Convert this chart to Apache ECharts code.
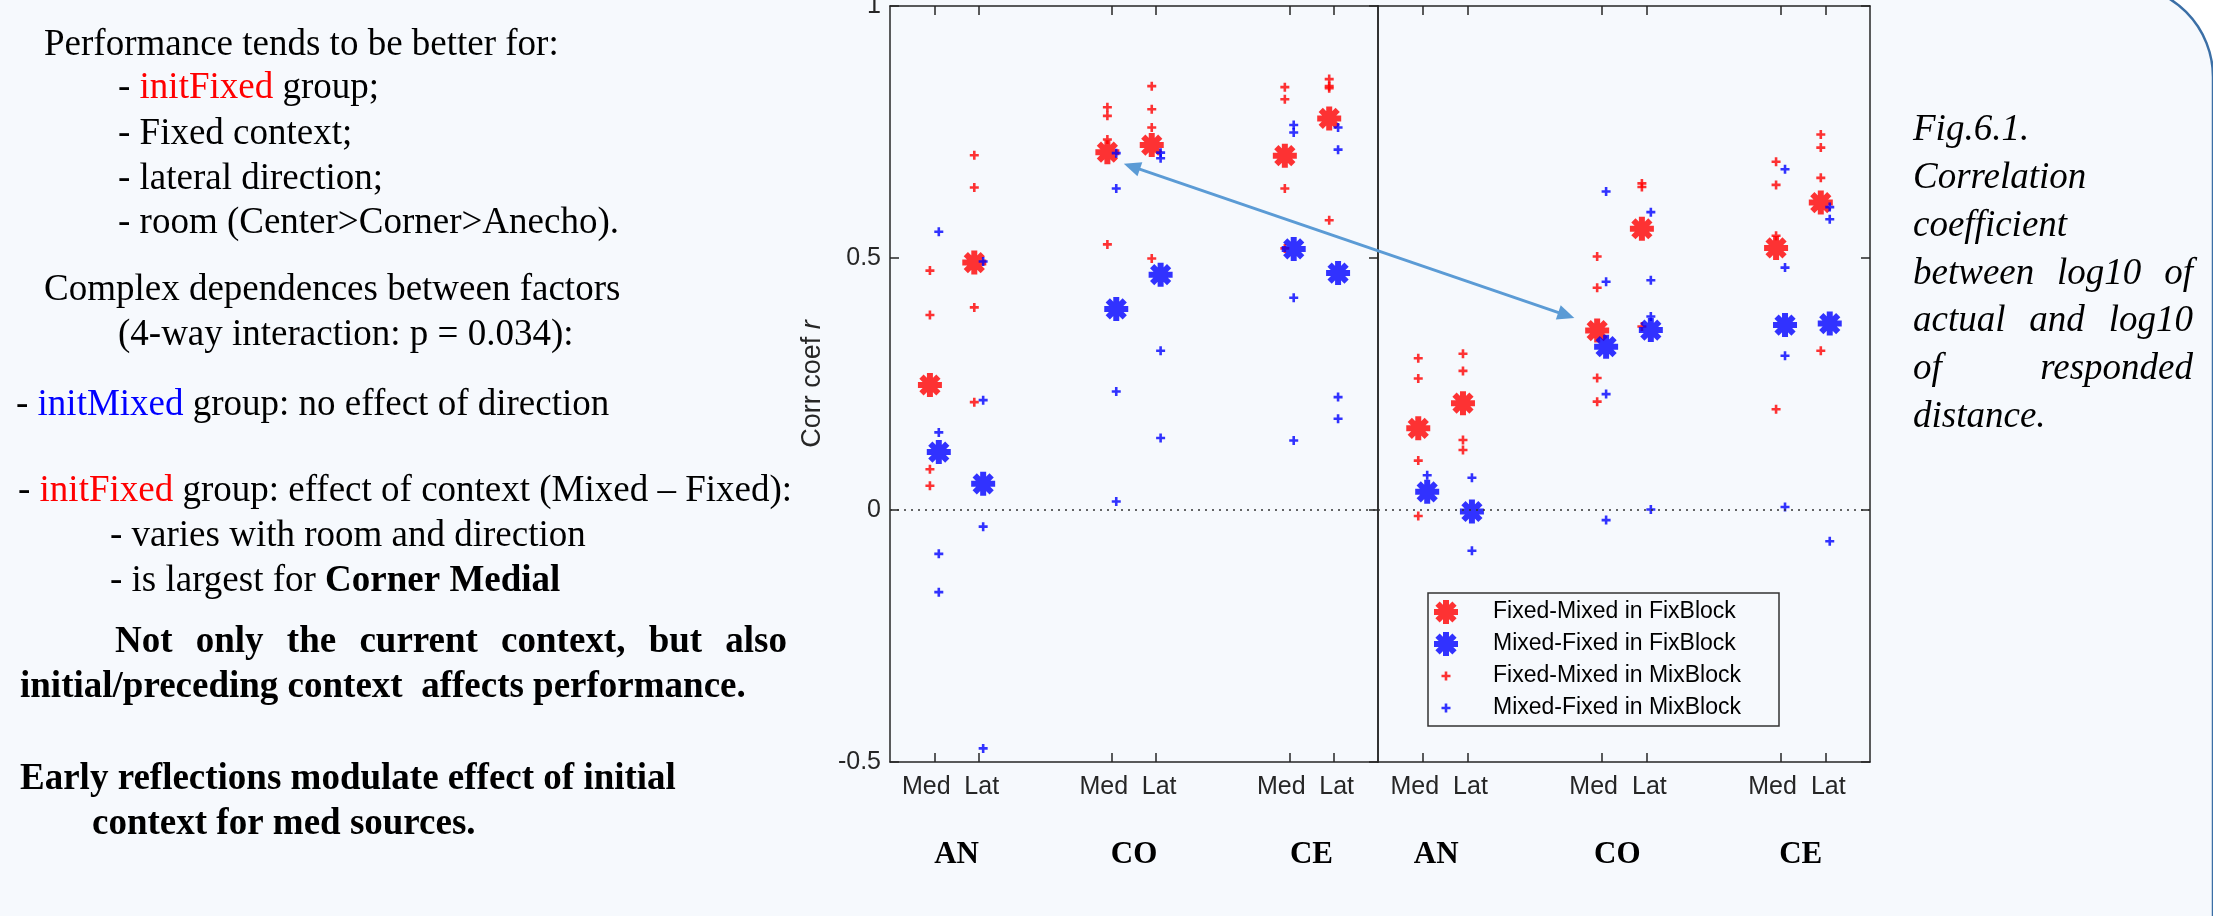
<!DOCTYPE html>
<html>
<head>
<meta charset="utf-8">
<title>Corr coef r</title>
<script src="https://cdn.jsdelivr.net/npm/echarts@6.0.0/dist/echarts.min.js"></script>
<style>
  html, body { margin: 0; padding: 0; background: #fff; }
  #main { width: 2213px; height: 916px; }
</style>
</head>
<body>
<div id="main"></div>
<script>
// x positions of the conditions in each panel (AN, CO, CE x Med, Lat)
const condX = [1, 2, 5, 6, 9, 10];
const condLabels = ['Med', 'Lat', 'Med', 'Lat', 'Med', 'Lat'];
const roomLabels = ['AN', 'CO', 'CE'];
const roomXLeft = [1.5, 5.5, 9.5];
const roomXRight = [1.3, 5.35, 9.45];

const seriesNames = ['Fixed-Mixed in FixBlock', 'Mixed-Fixed in FixBlock',
                     'Fixed-Mixed in MixBlock', 'Mixed-Fixed in MixBlock'];

// left panel
const fixMixBigL = [0.248, 0.491, 0.710, 0.724, 0.703, 0.777];
const mixFixBigL = [0.115, 0.052, 0.399, 0.467, 0.518, 0.470];
const fixMixSmallL = [
  [0.475, 0.387, 0.081, 0.048],
  [0.704, 0.640, 0.402, 0.214],
  [0.799, 0.782, 0.735, 0.527],
  [0.841, 0.795, 0.759, 0.499],
  [0.839, 0.815, 0.638, 0.519],
  [0.855, 0.841, 0.837, 0.575]
];
const mixFixSmallL = [
  [0.552, 0.154, -0.087, -0.163],
  [0.493, 0.218, -0.033, -0.473],
  [0.708, 0.638, 0.235, 0.017],
  [0.709, 0.698, 0.316, 0.143],
  [0.764, 0.749, 0.421, 0.138],
  [0.759, 0.715, 0.224, 0.181]
];

// right panel
const fixMixBigR = [0.162, 0.212, 0.356, 0.558, 0.520, 0.610];
const mixFixBigR = [0.036, -0.003, 0.324, 0.357, 0.367, 0.370];
const fixMixSmallR = [
  [0.301, 0.261, 0.098, -0.012],
  [0.310, 0.276, 0.139, 0.119],
  [0.503, 0.441, 0.262, 0.215],
  [0.648, 0.641, 0.364],
  [0.691, 0.645, 0.544, 0.200],
  [0.745, 0.719, 0.659, 0.316]
];
const mixFixSmallR = [
  [0.069],
  [0.064, -0.081],
  [0.632, 0.453, 0.230, -0.020],
  [0.591, 0.456, 0.384, 0.001],
  [0.676, 0.481, 0.306, 0.006],
  [0.601, 0.577, -0.062]
];

// arrow between CO Med of both panels, in data units [x, y]
const arrowFrom = [5.27, 0.687];
const arrowTo = [4.39, 0.381];

const leftNotes = [
  'Performance tends to be better for:',
  '- {r|initFixed} group;',
  '- Fixed context;',
  '- lateral direction;',
  '- room (Center>Corner>Anecho).',
  'Complex dependences between factors',
  '(4-way interaction: p = 0.034):',
  '- {b|initMixed} group: no effect of direction',
  '- {r|initFixed} group: effect of context (Mixed \u2013 Fixed):',
  '- varies with room and direction',
  '- is largest for {s|Corner Medial}'
];
const boldNotes = [
  'Not only the current context, but also',
  'initial/preceding context  affects performance.',
  'Early reflections modulate effect of initial',
  'context for med sources.'
];
const captionLines = ['Fig.6.1.', 'Correlation', 'coefficient', 'between log10 of',
                      'actual and log10', 'of responded', 'distance.'];

const RED = '#ff0000';
const BLUE = '#0000ff';
const AX = '#262626';
const BG = '#f6f9fd';
const SANS = '"Liberation Sans", Arial, sans-serif';
const SERIF = '"Liberation Serif", "Times New Roman", serif';

// MATLAB-like '*' and '+' markers
const ASTER = 'path://M0 9L24 9L24 15L0 15Z M9 0L15 0L15 24L9 24Z ' +
  'M5.636 1.394L22.606 18.364L18.364 22.606L1.394 5.636Z ' +
  'M1.394 18.364L18.364 1.394L22.606 5.636L5.636 22.606Z';
const PLUS = 'path://M3.2 0L5.8 0L5.8 3.2L9 3.2L9 5.8L5.8 5.8L5.8 9L3.2 9L3.2 5.8L0 5.8L0 3.2L3.2 3.2Z';
const PLUS_ICON = 'path://M0 0L0.01 0L0.01 0.01Z M24 24L23.99 24L23.99 23.99Z ' +
  'M10.7 7.5L13.3 7.5L13.3 10.7L16.5 10.7L16.5 13.3L13.3 13.3L13.3 16.5L10.7 16.5L10.7 13.3L7.5 13.3L7.5 10.7L10.7 10.7Z';

function bigPts(vals, dx) {
  return vals.map((v, i) => [condX[i] + dx, v]);
}
function smallPts(lists, dx) {
  const out = [];
  lists.forEach((l, i) => l.forEach(v => out.push([condX[i] + dx, v])));
  return out;
}

function panelSeries(g, fmBig, mfBig, fmSmall, mfSmall) {
  const base = { type: 'scatter', xAxisIndex: g * 2, yAxisIndex: g * 2, silent: true };
  return [
    Object.assign({}, base, {
      name: seriesNames[0], symbol: ASTER, symbolSize: 24,
      itemStyle: { color: RED }, data: bigPts(fmBig, -0.1),
      markLine: {
        silent: true, symbol: ['none', 'none'], label: { show: false },
        lineStyle: { type: [2, 5], color: '#333', width: 1.5 },
        data: [{ yAxis: 0 }]
      }
    }),
    Object.assign({}, base, {
      name: seriesNames[2], symbol: PLUS, symbolSize: 9,
      itemStyle: { color: RED }, data: smallPts(fmSmall, -0.1)
    }),
    Object.assign({}, base, {
      name: seriesNames[1], symbol: ASTER, symbolSize: 24,
      itemStyle: { color: BLUE }, data: bigPts(mfBig, 0.1)
    }),
    Object.assign({}, base, {
      name: seriesNames[3], symbol: PLUS, symbolSize: 9,
      itemStyle: { color: BLUE }, data: smallPts(mfSmall, 0.1)
    })
  ];
}

const axLine = { show: true, onZero: false, lineStyle: { color: AX, width: 1.5 } };
const tickStyle = { color: AX, width: 1.5 };

function xAxes(g) {
  return [
    {
      type: 'value', gridIndex: g, position: 'bottom', min: 0, max: 11,
      axisLine: axLine,
      axisTick: { show: true, inside: true, length: 9, customValues: condX, lineStyle: tickStyle },
      axisLabel: {
        customValues: condX, margin: 13,
        formatter: v => {
          const i = condX.indexOf(v);
          return i % 2 === 0 ? '{m|' + condLabels[i] + '}' : '{l|' + condLabels[i] + '}';
        },
        rich: {
          m: { fontSize: 25, fontFamily: SANS, color: AX, padding: [0, 16, 0, 0] },
          l: { fontSize: 25, fontFamily: SANS, color: AX, padding: [0, 0, 0, 6] }
        }
      },
      splitLine: { show: false }
    },
    {
      type: 'value', gridIndex: g, position: 'top', min: 0, max: 11,
      axisLine: axLine,
      axisTick: { show: true, inside: true, length: 9, customValues: condX, lineStyle: tickStyle },
      axisLabel: { show: false },
      splitLine: { show: false }
    }
  ];
}

function yAxes(g) {
  const common = { type: 'value', gridIndex: g, min: -0.5, max: 1, interval: 0.5, splitLine: { show: false } };
  const left = Object.assign({}, common, {
    position: 'left', axisLine: axLine,
    axisTick: { show: g === 0, inside: true, length: 9, lineStyle: tickStyle },
    axisLabel: { show: g === 0, margin: 9, fontSize: 25, fontFamily: SANS, color: AX }
  });
  if (g === 0) {
    left.name = '{n|Corr coef }{i|r}';
    left.nameLocation = 'middle';
    left.nameGap = 64;
    left.nameTextStyle = {
      fontSize: 27, fontFamily: SANS, color: AX,
      rich: {
        n: { fontSize: 27, fontFamily: SANS, color: AX },
        i: { fontSize: 27, fontFamily: SANS, fontStyle: 'italic', color: AX }
      }
    };
  }
  const right = Object.assign({}, common, {
    position: 'right', axisLine: axLine,
    axisTick: { show: true, inside: true, length: 9, lineStyle: tickStyle },
    axisLabel: { show: false }
  });
  return [left, right];
}

const chart = echarts.init(document.getElementById('main'));

chart.setOption({
  animation: false,
  backgroundColor: 'transparent',
  grid: [
    { left: 890, top: 6, width: 488, height: 756, outerBoundsMode: 'none' },
    { left: 1378, top: 6, width: 492, height: 756, outerBoundsMode: 'none' }
  ],
  xAxis: xAxes(0).concat(xAxes(1)),
  yAxis: yAxes(0).concat(yAxes(1)),
  legend: {
    orient: 'vertical', left: 1434, top: 600, padding: 0,
    itemWidth: 84, itemHeight: 24, itemGap: 8, symbolKeepAspect: true,
    selectedMode: false, z: 5,
    textStyle: { fontSize: 23, fontFamily: SANS, color: '#000', lineHeight: 24 },
    data: [
      { name: seriesNames[0], icon: ASTER },
      { name: seriesNames[1], icon: ASTER },
      { name: seriesNames[2], icon: PLUS_ICON },
      { name: seriesNames[3], icon: PLUS_ICON }
    ]
  },
  series: panelSeries(0, fixMixBigL, mixFixBigL, fixMixSmallL, mixFixSmallL)
    .concat(panelSeries(1, fixMixBigR, mixFixBigR, fixMixSmallR, mixFixSmallR))
});

// ---- annotations (text, legend box, arrow) ----
const F37 = '37px ' + SERIF;
const F37B = 'bold 37px ' + SERIF;
const F37I = 'italic 37px ' + SERIF;
const rich = {
  r: { font: F37, fill: RED },
  b: { font: F37, fill: BLUE },
  s: { font: F37B, fill: '#000' }
};
const measureCtx = document.createElement('canvas').getContext('2d');
function textWidth(t, font) { measureCtx.font = font; return measureCtx.measureText(t).width; }

function txt(text, x, y, font, extra) {
  return Object.assign({
    type: 'text', x: x, y: y, silent: true, z: 10,
    style: { text: text, font: font, fill: '#000', align: 'left', verticalAlign: 'middle', rich: rich }
  }, extra || {});
}
function justify(line, x0, x1, y, font) {
  const words = line.split(' ');
  const ws = words.map(w => textWidth(w, font));
  const gap = (x1 - x0 - ws.reduce((a, b) => a + b, 0)) / (words.length - 1);
  const els = [];
  let x = x0;
  words.forEach((w, i) => { els.push(txt(w, x, y, font)); x += ws[i] + gap; });
  return els;
}

const graphics = [];
// slide background with rounded top-right corner
graphics.push({
  type: 'rect', silent: true, z: -100,
  shape: { x: -100, y: -15, width: 2313, height: 1100, r: [0, 92, 0, 0] },
  style: { fill: BG, stroke: '#3b6fa6', lineWidth: 2.5 }
});

const noteX = [44, 118, 118, 118, 118, 44, 118, 16, 18, 110, 110];
const noteY = [45, 88, 134, 179, 223, 290, 335, 405, 491, 536, 581];
leftNotes.forEach((t, i) => graphics.push(txt(t, noteX[i], noteY[i], F37)));

justify(boldNotes[0], 115, 787, 642, F37B).forEach(e => graphics.push(e));
graphics.push(txt(boldNotes[1], 20, 687, F37B));
graphics.push(txt(boldNotes[2], 20, 779, F37B));
graphics.push(txt(boldNotes[3], 92, 824, F37B));

const capY = [130, 178, 226, 274, 321, 369, 417];
captionLines.forEach((t, i) => {
  if (t.indexOf(' ') > 0) justify(t, 1913, 2193, capY[i], F37I).forEach(e => graphics.push(e));
  else graphics.push(txt(t, 1913, capY[i], F37I));
});

// room labels under each panel
[[0, roomXLeft], [1, roomXRight]].forEach(([g, xs]) => {
  xs.forEach((xv, i) => {
    const p = chart.convertToPixel({ gridIndex: g }, [xv, -0.5]);
    graphics.push(txt(roomLabels[i], p[0], 855, 'bold 31px ' + SERIF,
      { style: { text: roomLabels[i], font: 'bold 31px ' + SERIF, fill: '#000', align: 'center', verticalAlign: 'middle' } }));
  });
});

// legend box
graphics.push({
  type: 'rect', silent: true, z: 3,
  shape: { x: 1428, y: 593, width: 351, height: 133 },
  style: { fill: BG, stroke: '#333', lineWidth: 1.5 }
});

// double headed arrow
const a0 = chart.convertToPixel({ gridIndex: 0 }, arrowFrom);
const a1 = chart.convertToPixel({ gridIndex: 1 }, arrowTo);
const dx = a1[0] - a0[0], dy = a1[1] - a0[1];
const len = Math.sqrt(dx * dx + dy * dy);
const ux = dx / len, uy = dy / len, nx = -uy, ny = ux;
const HL = 17, HW = 7.5;
const ARROW = '#5b9bd5';
graphics.push({
  type: 'line', silent: true, z: 20,
  shape: { x1: a0[0] + ux * HL * 0.8, y1: a0[1] + uy * HL * 0.8, x2: a1[0] - ux * HL * 0.8, y2: a1[1] - uy * HL * 0.8 },
  style: { stroke: ARROW, lineWidth: 3 }
});
graphics.push({
  type: 'polygon', silent: true, z: 20,
  shape: { points: [[a1[0], a1[1]], [a1[0] - ux * HL + nx * HW, a1[1] - uy * HL + ny * HW], [a1[0] - ux * HL - nx * HW, a1[1] - uy * HL - ny * HW]] },
  style: { fill: ARROW }
});
graphics.push({
  type: 'polygon', silent: true, z: 20,
  shape: { points: [[a0[0], a0[1]], [a0[0] + ux * HL + nx * HW, a0[1] + uy * HL + ny * HW], [a0[0] + ux * HL - nx * HW, a0[1] + uy * HL - ny * HW]] },
  style: { fill: ARROW }
});

chart.setOption({ graphic: graphics });
</script>
</body>
</html>
